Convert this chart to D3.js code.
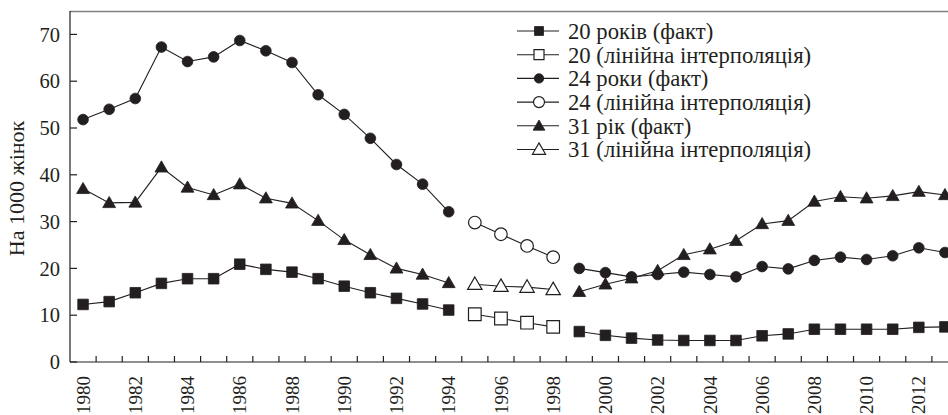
<!DOCTYPE html>
<html>
<head>
<meta charset="utf-8">
<script src="https://cdn.jsdelivr.net/npm/d3@7"></script>
<style>
  html, body { margin: 0; padding: 0; background: #fff; }
  svg { display: block; }
  text { font-family: "Liberation Serif", "Times New Roman", Times, serif; fill: #231f20; }
</style>
</head>
<body>
<svg id="chart" width="948" height="415"></svg>
<script>
// ---- Data ----
const years = d3.range(1980, 2014);
const yTicks = [0, 10, 20, 30, 40, 50, 60, 70];
const yTitle = "На 1000 жінок";

const factYears1 = d3.range(1980, 1995);   // 1980–1994
const interpYears = d3.range(1995, 1999);  // 1995–1998
const factYears2 = d3.range(1999, 2014);   // 1999–2013

const age20fact1 = [12.3, 12.9, 14.8, 16.8, 17.8, 17.8, 20.9, 19.8, 19.2, 17.8, 16.2, 14.8, 13.6, 12.4, 11.1];
const age20interp = [10.2, 9.3, 8.4, 7.5];
const age20fact2 = [6.5, 5.7, 5.1, 4.7, 4.6, 4.6, 4.6, 5.6, 6.0, 7.0, 7.0, 7.0, 7.0, 7.4, 7.5];

const age24fact1 = [51.8, 54.0, 56.3, 67.3, 64.2, 65.2, 68.7, 66.5, 64.0, 57.1, 52.9, 47.8, 42.2, 38.0, 32.1];
const age24interp = [29.8, 27.3, 24.8, 22.4];
const age24fact2 = [20.0, 19.1, 18.2, 18.7, 19.2, 18.7, 18.2, 20.4, 19.9, 21.7, 22.4, 21.9, 22.7, 24.4, 23.4];

const age31fact1 = [37.0, 34.0, 34.1, 41.6, 37.3, 35.7, 38.0, 35.0, 33.9, 30.2, 26.1, 22.9, 20.0, 18.7, 16.9];
const age31interp = [16.6, 16.2, 16.0, 15.5];
const age31fact2 = [15.0, 16.6, 17.9, 19.5, 22.9, 24.1, 25.9, 29.5, 30.2, 34.3, 35.3, 35.0, 35.5, 36.4, 35.7];

const legendLabels = [
  "20 років (факт)",
  "20 (лінійна інтерполяція)",
  "24 роки (факт)",
  "24 (лінійна інтерполяція)",
  "31 рік (факт)",
  "31 (лінійна інтерполяція)"
];

// ---- Layout ----
const svg = d3.select("#chart");
const mLeft = 70, mRight = 958, mTop = 11, mBottom = 362;
const ink = "#231f20";

const x = d3.scaleBand().domain(years).range([mLeft, mRight]).padding(0);
const bw = x.bandwidth();
const cx = yr => x(yr) + bw / 2;
const y = d3.scaleLinear().domain([0, 75]).range([mBottom, mTop]);

const shapes = {
  square: d3.symbolSquare,
  circle: d3.symbolCircle,
  triangle: d3.symbolTriangle
};

const series = [
  {yrs: factYears1, vals: age20fact1, shape: "square", open: false, size: 112},
  {yrs: interpYears, vals: age20interp, shape: "square", open: true, size: 160},
  {yrs: factYears2, vals: age20fact2, shape: "square", open: false, size: 112},
  {yrs: factYears1, vals: age24fact1, shape: "circle", open: false, size: 90},
  {yrs: interpYears, vals: age24interp, shape: "circle", open: true, size: 125},
  {yrs: factYears2, vals: age24fact2, shape: "circle", open: false, size: 90},
  {yrs: factYears1, vals: age31fact1, shape: "triangle", open: false, size: 72},
  {yrs: interpYears, vals: age31interp, shape: "triangle", open: true, size: 90},
  {yrs: factYears2, vals: age31fact2, shape: "triangle", open: false, size: 72}
];

// frame: top border (gray)
svg.append("line").attr("x1", mLeft).attr("x2", 948).attr("y1", mTop + 0.5).attr("y2", mTop + 0.5)
  .attr("stroke", "#808080").attr("stroke-width", 1.5);

// Y axis
const yAxis = svg.append("g");
yAxis.append("line").attr("x1", mLeft).attr("x2", mLeft).attr("y1", mTop).attr("y2", mBottom)
  .attr("stroke", ink).attr("stroke-width", 1.2);
yTicks.forEach(t => {
  yAxis.append("line").attr("x1", mLeft).attr("x2", mLeft + 7).attr("y1", y(t)).attr("y2", y(t))
    .attr("stroke", ink).attr("stroke-width", 1.2);
  yAxis.append("text").attr("x", mLeft - 10).attr("y", y(t)).attr("dy", "0.35em")
    .attr("text-anchor", "end").attr("font-size", 20.5).text(t);
});

// X axis
const xAxis = svg.append("g");
xAxis.append("line").attr("x1", mLeft).attr("x2", 948).attr("y1", mBottom).attr("y2", mBottom)
  .attr("stroke", ink).attr("stroke-width", 1.2);
years.slice(1).forEach(yr => {
  xAxis.append("line").attr("x1", x(yr)).attr("x2", x(yr)).attr("y1", mBottom).attr("y2", mBottom - 6)
    .attr("stroke", ink).attr("stroke-width", 1.2);
});
years.filter(yr => yr % 2 === 0).forEach(yr => {
  xAxis.append("text")
    .attr("transform", `translate(${cx(yr)},${mBottom + 14}) rotate(-90)`)
    .attr("text-anchor", "end").attr("dy", "0.35em").attr("font-size", 19).text(yr);
});

// Y title
svg.append("text")
  .attr("transform", `translate(16,${(mTop + mBottom) / 2 + 2}) rotate(-90)`)
  .attr("text-anchor", "middle").attr("dy", "0.35em").attr("font-size", 22).text(yTitle);

// Lines and markers
const line = d3.line().x(d => cx(d[0])).y(d => y(d[1]));
const plot = svg.append("g");
series.forEach(s => {
  const pts = s.yrs.map((yr, i) => [yr, s.vals[i]]);
  plot.append("path").attr("d", line(pts)).attr("fill", "none")
    .attr("stroke", ink).attr("stroke-width", 1.1);
});
series.forEach(s => {
  const pts = s.yrs.map((yr, i) => [yr, s.vals[i]]);
  const sym = d3.symbol().type(shapes[s.shape]).size(s.size);
  plot.selectAll(null).data(pts).join("path")
    .attr("d", sym)
    .attr("transform", d => `translate(${cx(d[0])},${y(d[1]) + (s.shape === "triangle" ? 1 : 0)})`)
    .attr("fill", s.open ? "#fff" : ink)
    .attr("stroke", ink).attr("stroke-width", s.open ? 1.2 : 0.8);
});

// Legend
const legendItems = [
  {shape: "square", open: false, size: 80},
  {shape: "square", open: true, size: 100},
  {shape: "circle", open: false, size: 70},
  {shape: "circle", open: true, size: 95},
  {shape: "triangle", open: false, size: 60},
  {shape: "triangle", open: true, size: 75}
];
const lg = svg.append("g");
legendItems.forEach((it, i) => {
  const ly = 31 + i * 23.7;
  lg.append("line").attr("x1", 517).attr("x2", 559).attr("y1", ly).attr("y2", ly)
    .attr("stroke", ink).attr("stroke-width", 1.1);
  lg.append("path").attr("d", d3.symbol().type(shapes[it.shape]).size(it.size))
    .attr("transform", `translate(539,${ly + (it.shape === "triangle" ? 1 : 0)})`)
    .attr("fill", it.open ? "#fff" : ink).attr("stroke", ink).attr("stroke-width", it.open ? 1.2 : 0.8);
  lg.append("text").attr("x", 568).attr("y", ly).attr("dy", "0.35em")
    .attr("font-size", 22.7).text(legendLabels[i]);
});
</script>
</body>
</html>
